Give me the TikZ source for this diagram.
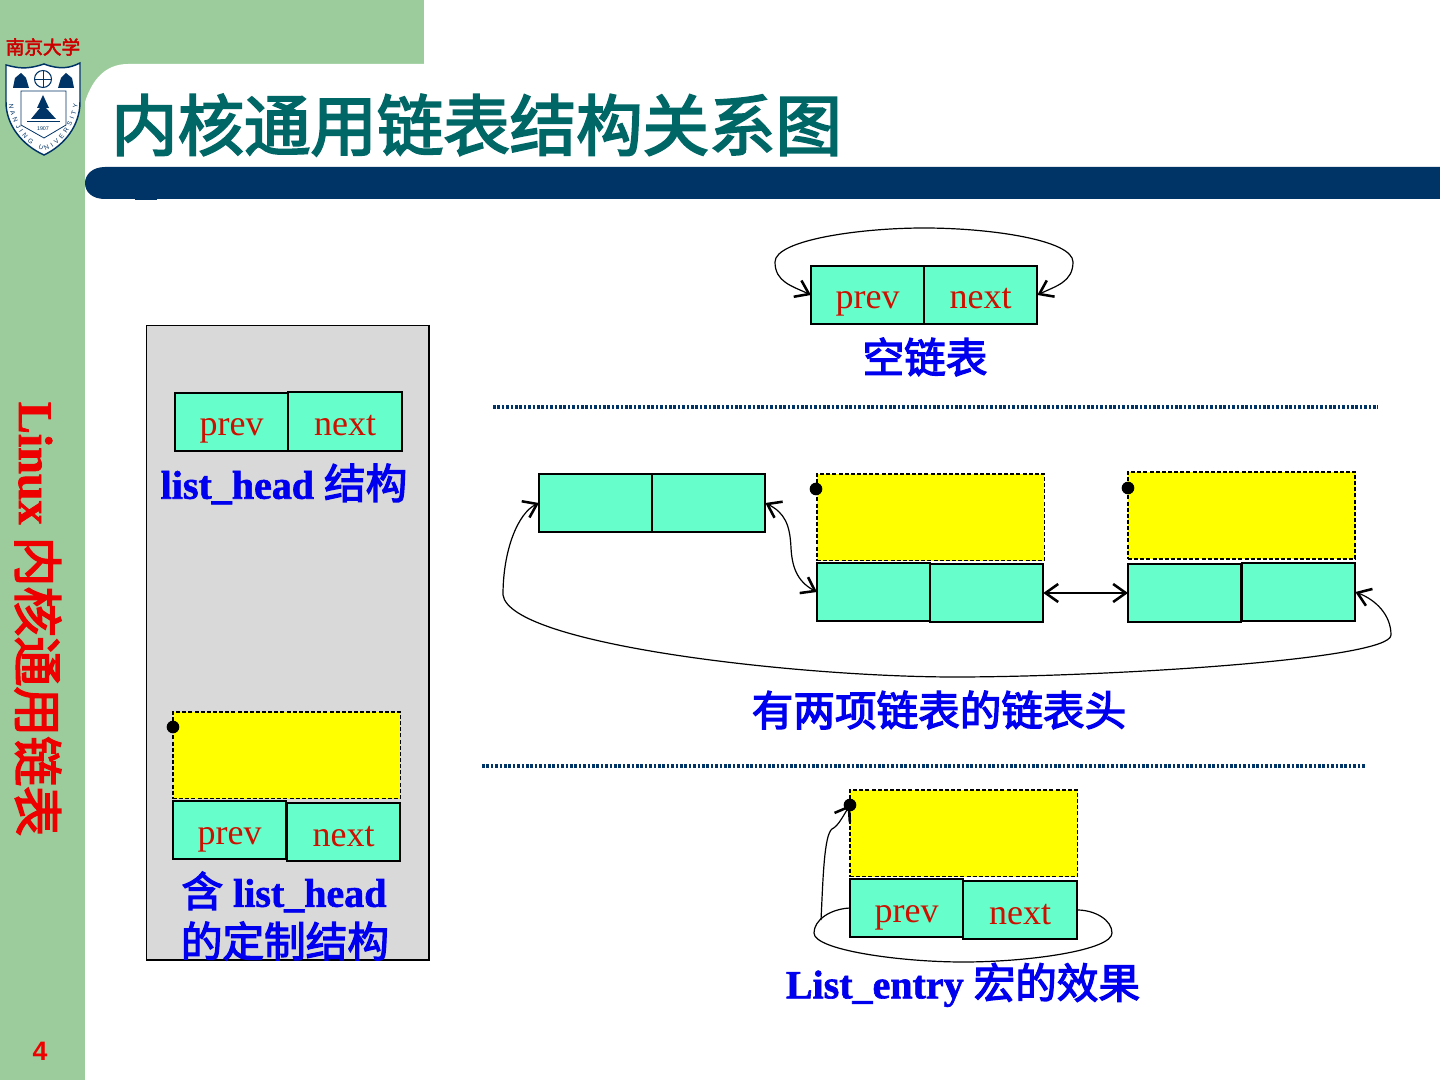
\documentclass[tikz,border=0pt]{standalone}
\usepackage{fontspec}
\setmainfont{Liberation Serif}
\newfontfamily\boldserif{Liberation Serif Bold}[FakeBold=1.5]
\newfontfamily\cjk{Noto Sans CJK SC}[Scale=1.04,FakeBold=3]
\newfontfamily\arialf{Liberation Sans}
\usetikzlibrary{arrows.meta,decorations.text}
\definecolor{sidegreen}{HTML}{9CCC9C}
\definecolor{navybar}{HTML}{003366}
\definecolor{titleteal}{HTML}{006666}
\definecolor{cellgreen}{HTML}{66FFCC}
\definecolor{labelred}{HTML}{CC1100}
\definecolor{panelgray}{HTML}{D9D9D9}
\definecolor{labelblue}{HTML}{0000EE}
\definecolor{pureyellow}{HTML}{FFFF00}
\definecolor{pagered}{HTML}{EE0000}
\tikzset{
  x=0.75pt,y=-0.75pt,
  tipbarb/.tip={Straight Barb[length=9.5pt,width=13.5pt,line width=1.9pt]},
  cellbox/.style={draw=black,line width=1.5pt,fill=cellgreen,anchor=north west,inner sep=0pt,outer sep=0pt,
    minimum width=85pt,minimum height=43.5pt,text height=24pt,text depth=3pt,
    text=labelred,font=\fontsize{27}{27}\selectfont},
  emptycell/.style={cellbox,text height=0pt,text depth=0pt},
  yellowbox/.style={draw=black,line width=0.8pt,dash pattern=on 3pt off 1.6pt,fill=pureyellow,anchor=north west,
    inner sep=0pt,outer sep=0pt,minimum width=170.3pt,minimum height=65pt},
  dotmark/.style={circle,fill=black,inner sep=0pt,minimum size=9.5pt},
  caption/.style={text=labelblue,inner sep=0pt,font=\fontsize{30}{30}\selectfont\boldserif},
  dotline/.style={draw=navybar,line width=2.4pt,dash pattern=on 1.9pt off 1.4pt},
  link/.style={draw=black,line width=0.9pt,tipbarb-tipbarb},
  linkone/.style={draw=black,line width=0.9pt,-tipbarb},
}
\newcommand{\cn}[1]{{\cjk #1}}
\begin{document}
\begin{tikzpicture}
\useasboundingbox (0,0) rectangle (1440,1080);
% background
\fill[sidegreen] (0,0) rectangle (1440,1080);
\fill[white] (85,1080) -- (85,102) .. controls (92,80) and (105,64) .. (128,64) -- (424,64) -- (424,0) -- (1440,0) -- (1440,1080) -- cycle;
\fill[navybar] (1440,167) -- (105,167) .. controls (92,167) and (85,175) .. (85,183) .. controls (85,192) and (92,199) .. (105,199) -- (1440,199) -- cycle;
\fill[navybar] (135,199) rectangle (157,200.5);
% logo
\node[text=red!80!black,inner sep=0pt,font=\fontsize{13.4}{14}\selectfont] (logotext) at (43,47) {\cn{南京大学}};
\draw[navybar,fill=white,line width=1.1pt] (6,65) .. controls (18,68) and (26,70) .. (44,64) .. controls (60,70) and (70,68) .. (80,63) -- (80,102) .. controls (80,125) and (65,145) .. (44,155) .. controls (22,145) and (6,125) .. (6,102) -- cycle;
\draw[navybar,line width=0.6pt] (21,91) -- (66,91) -- (66,125) -- (44,138) -- (21,125) -- cycle;
\draw[navybar,line width=0.8pt] (43,79) circle (8.5);
\draw[navybar,line width=0.5pt] (35,79) -- (51,79) (43,71) -- (43,87);
\fill[navybar] (13,88) -- (15,78) -- (21,73) -- (26,78) -- (29,88) -- cycle;
\fill[navybar] (58,88) -- (61,78) -- (66,73) -- (72,78) -- (74,88) -- cycle;
\fill[navybar] (43,95) -- (49,108) -- (46,108) -- (56,119) -- (31,119) -- (40,108) -- (37,108) -- cycle;
\draw[navybar,line width=0.4pt] (27,121) -- (60,121);
\node[text=navybar,inner sep=0pt,font=\arialf\fontsize{4}{4}\selectfont] (logoyear) at (43,129) {1907};
\path[postaction={decorate,decoration={text along path,text align=fit to path,
  text={|\arialf\fontsize{4.8}{4.8}\selectfont\color{navybar}|NANJING UNIVERSITY}}}]
  (9,104) .. controls (11,128) and (28,146) .. (44,151) .. controls (60,146) and (74,128) .. (78,104);
% title and side
\node[text=titleteal,anchor=west,inner sep=0pt,font=\fontsize{47.9}{50}\selectfont] (title) at (111,125) {\cn{内核通用链表结构关系图}};
\node[text=pagered,rotate=-90,inner sep=0pt,font=\fontsize{36}{36}\selectfont\boldserif] (sidetitle) at (38,619) {Linux \cn{内核通用链表}};
\node[text=pagered,inner sep=0pt,font=\arialf\bfseries\fontsize{20}{20}\selectfont] (pagenum) at (40,1051) {4};
% panel
\draw[fill=panelgray,line width=0.7pt] (146,325) rectangle (429,960);
\draw[line width=1.6pt] (429,325) -- (429,960) -- (146,960);
\node[cellbox] (pa) at (175,393) {prev};
\node[cellbox,minimum height=44pt,minimum width=85.6pt] (pb) at (288,392) {next};
\node[caption] (pcap) at (284,484) {list\_head \cn{结构}};
\node[yellowbox] (py) at (173,712) {};
\node[dotmark] (pd) at (173,727) {};
\node[cellbox] (pc) at (173,801) {prev};
\node[cellbox] (pe) at (287,803) {next};
\node[caption] (pcap2) at (284,892) {\cn{含} list\_head};
\node[caption] (pcap3) at (285,941) {\cn{的定制结构}};
% empty list
\node[cellbox] (ea) at (811,266) {prev};
\node[cellbox] (eb) at (924,266) {next};
\draw[link] (ea.west) .. controls (792,286) and (775,282) .. (775,262) .. controls (775,240) and (860,228) .. (924,228) .. controls (990,228) and (1073,240) .. (1073,262) .. controls (1073,282) and (1056,286) .. (eb.east);
\node[caption] (ecap) at (925,357) {\cn{空链表}};
\coordinate (l1a) at (493,407); \coordinate (l1b) at (1378,407);
\draw[dotline] (l1a) -- (l1b);
% two-item list
\node[emptycell] (ma) at (539,474) {};
\node[emptycell] (mb) at (652,474) {};
\node[yellowbox] (my1) at (817,474) {};
\node[dotmark] (md1) at (816,489) {};
\node[emptycell] (mc) at (817,563) {};
\node[emptycell] (md) at (930,564) {};
\node[yellowbox,line width=1.4pt] (my2) at (1128,472) {};
\node[dotmark] (md2) at (1128,488) {};
\node[emptycell] (me) at (1128,564) {};
\node[emptycell] (mf) at (1242,563) {};
\draw[link] (mb.east) .. controls (785,513) and (790,525) .. (791,548) .. controls (792,565) and (796,581) .. (mc.west);
\draw[link] (md.east) -- (me.west);
\draw[link] (ma.west) .. controls (518,513) and (503,550) .. (503,595) .. controls (510,645) and (800,677) .. (955,677) .. controls (1100,677) and (1391,660) .. (1391,635) .. controls (1391,615) and (1376,600) .. (mf.east);
\node[caption] (mcap) at (939,710) {\cn{有两项链表的链表头}};
\coordinate (l2a) at (482,766); \coordinate (l2b) at (1366,766);
\draw[dotline] (l2a) -- (l2b);
% list_entry
\node[yellowbox] (by) at (850,790) {};
\node[cellbox] (ba) at (850,879) {prev};
\node[cellbox,minimum width=85.6pt] (bb) at (963,881) {next};
\draw[draw=black,line width=0.9pt] (ba.west) .. controls (830,909) and (814,920) .. (814,933) .. controls (814,950) and (900,962) .. (963,962) .. controls (1030,962) and (1112,950) .. (1112,933) .. controls (1112,920) and (1095,910) .. (bb.east);
\node[dotmark] (bd) at (850,805) {};
\coordinate (bstart) at (821,920);
\draw[linkone] (bstart) .. controls (823,880) and (824,835) .. (832,829) .. controls (838,826) and (842,818) .. (bd.center);
\node[caption] (bcap) at (963,985) {List\_entry \cn{宏的效果}};
\end{tikzpicture}
\end{document}
